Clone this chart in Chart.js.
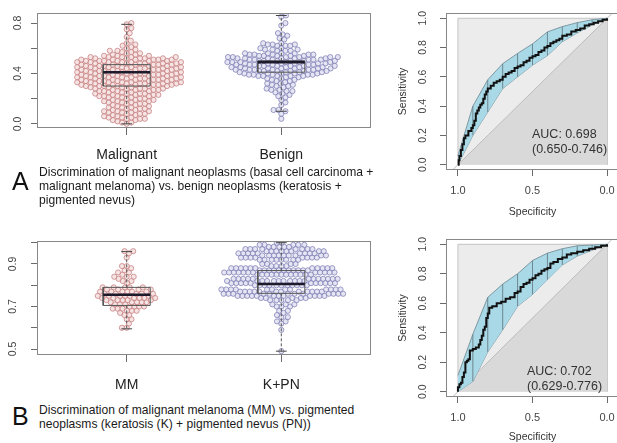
<!DOCTYPE html>
<html>
<head>
<meta charset="utf-8">
<script src="https://cdn.jsdelivr.net/npm/chart.js@4.4.1/dist/chart.umd.min.js"></script>
<style>
  body { margin: 0; background: #fff; font-family: "Liberation Sans", Arial, sans-serif; }
  #page { position: relative; width: 617px; height: 443px; overflow: hidden; }
  canvas { position: absolute; }
  .tag { position: absolute; font-size: 25px; line-height: 25px; color: #111; }
  .cap { position: absolute; font-size: 12.1px; line-height: 14px; color: #1a1a1a; white-space: nowrap; }
  .auc { position: absolute; font-size: 12.5px; line-height: 14.5px; color: #333; white-space: nowrap; }
</style>
</head>
<body>
<div id="page">
  <canvas id="swarmA" width="380" height="170" style="left:0;top:0"></canvas>
  <canvas id="rocA" width="245" height="225" style="left:380px;top:0"></canvas>
  <canvas id="swarmB" width="380" height="170" style="left:0;top:225px"></canvas>
  <canvas id="rocB" width="245" height="218" style="left:380px;top:225px"></canvas>

  <div class="tag" style="left:12px;top:169px">A</div>
  <div class="cap" style="left:39px;top:165px">Discrimination of malignant neoplasms (basal cell carcinoma +<br>malignant melanoma) vs. benign neoplasms (keratosis +<br>pigmented nevus)</div>
  <div class="tag" style="left:12px;top:404px">B</div>
  <div class="cap" style="left:39px;top:403px">Discrimination of malignant melanoma (MM) vs. pigmented<br>neoplasms (keratosis (K) + pigmented nevus (PN))</div>

  <div class="auc" id="aucA" style="left:532px;top:127px"></div>
  <div class="auc" id="aucB" style="left:527px;top:364px"></div>
</div>

<script>
Chart.defaults.font.family = '"Liberation Sans", Arial, sans-serif';

// ---------- panel A: malignant vs benign ----------
const swarmACategories = ['Malignant', 'Benign'];
const malignantValues = [
  0.00, 0.01, 0.01,
  0.02, 0.03, 0.03, 0.04, 0.04, 0.04, 0.05, 0.05, 0.05,
  0.06, 0.06, 0.07, 0.07, 0.08, 0.08, 0.08, 0.09, 0.09, 0.09,
  0.10, 0.10, 0.10, 0.11, 0.11, 0.12, 0.12, 0.12, 0.13, 0.13, 0.13,
  0.14, 0.14, 0.15, 0.15, 0.16, 0.16, 0.16, 0.17, 0.17, 0.17,
  0.18, 0.18, 0.18, 0.19, 0.19, 0.19, 0.20, 0.20, 0.20, 0.21, 0.21, 0.21,
  0.22, 0.22, 0.22, 0.22, 0.23, 0.23, 0.23, 0.23, 0.24, 0.24, 0.24, 0.24, 0.25, 0.25, 0.25,
  0.26, 0.26, 0.26, 0.26, 0.27, 0.27, 0.27, 0.27, 0.28, 0.28, 0.28, 0.28, 0.28, 0.29, 0.29, 0.29, 0.29,
  0.30, 0.30, 0.30, 0.30, 0.30, 0.30, 0.31, 0.31, 0.31, 0.31, 0.31, 0.31,
  0.32, 0.32, 0.32, 0.32, 0.32, 0.32, 0.33, 0.33, 0.33, 0.33, 0.33, 0.33,
  0.34, 0.34, 0.34, 0.34, 0.34, 0.34, 0.35, 0.35, 0.35, 0.35, 0.35, 0.35,
  0.36, 0.36, 0.36, 0.36, 0.36, 0.36, 0.37, 0.37, 0.37, 0.37, 0.37, 0.37,
  0.38, 0.38, 0.38, 0.38, 0.38, 0.38, 0.39, 0.39, 0.39, 0.39, 0.39, 0.39,
  0.40, 0.40, 0.40, 0.40, 0.40, 0.40, 0.41, 0.41, 0.41, 0.41, 0.41, 0.41,
  0.42, 0.42, 0.42, 0.42, 0.42, 0.42, 0.43, 0.43, 0.43, 0.43, 0.43, 0.43,
  0.44, 0.44, 0.44, 0.44, 0.44, 0.44, 0.45, 0.45, 0.45, 0.45, 0.45, 0.45,
  0.46, 0.46, 0.46, 0.46, 0.46, 0.46, 0.47, 0.47, 0.47, 0.47, 0.47, 0.47,
  0.48, 0.48, 0.48, 0.48, 0.48, 0.48, 0.49, 0.49, 0.49, 0.49, 0.49, 0.49,
  0.50, 0.50, 0.50, 0.50, 0.50, 0.50, 0.51, 0.51, 0.51, 0.51, 0.51, 0.51,
  0.52, 0.52, 0.52, 0.52, 0.52, 0.53, 0.53, 0.53, 0.53, 0.53,
  0.54, 0.54, 0.54, 0.55, 0.55, 0.56, 0.56, 0.57, 0.57,
  0.58, 0.58, 0.59, 0.60, 0.61,
  0.62, 0.63, 0.64, 0.66, 0.69, 0.72, 0.75, 0.76, 0.79, 0.80
];
const benignValues = [
  0.04, 0.08, 0.10, 0.11, 0.11,
  0.15, 0.17, 0.19, 0.21,
  0.22, 0.23, 0.24, 0.25,
  0.26, 0.26, 0.27, 0.27, 0.28, 0.29,
  0.30, 0.30, 0.31, 0.31, 0.32, 0.32, 0.33,
  0.34, 0.34, 0.35, 0.35, 0.36, 0.36, 0.37, 0.37,
  0.38, 0.38, 0.38, 0.38, 0.38, 0.39, 0.39, 0.39, 0.39, 0.39,
  0.40, 0.40, 0.40, 0.40, 0.40, 0.41, 0.41, 0.41, 0.41,
  0.42, 0.42, 0.42, 0.42, 0.42, 0.42, 0.43, 0.43, 0.43, 0.43, 0.43, 0.43,
  0.44, 0.44, 0.44, 0.44, 0.44, 0.44, 0.45, 0.45, 0.45, 0.45, 0.45,
  0.46, 0.46, 0.46, 0.46, 0.46, 0.46, 0.47, 0.47, 0.47, 0.47, 0.47, 0.47,
  0.48, 0.48, 0.48, 0.48, 0.48, 0.48, 0.49, 0.49, 0.49, 0.49, 0.49, 0.49,
  0.50, 0.50, 0.50, 0.50, 0.50, 0.50, 0.51, 0.51, 0.51, 0.51, 0.51, 0.51,
  0.52, 0.52, 0.52, 0.52, 0.52, 0.52, 0.53, 0.53, 0.53, 0.53, 0.53, 0.53,
  0.54, 0.54, 0.54, 0.54, 0.54, 0.55, 0.55, 0.55, 0.55, 0.55, 0.56, 0.56, 0.56, 0.56,
  0.58, 0.58, 0.58, 0.59, 0.59, 0.59, 0.60, 0.60,
  0.62, 0.62, 0.62, 0.63, 0.63, 0.63, 0.64, 0.64,
  0.67, 0.68, 0.70, 0.71, 0.72, 0.78, 0.80, 0.85, 0.86
];
// min, q1, median, q3, max
const swarmABoxes = [
  [0.00, 0.30, 0.41, 0.47, 0.79],
  [0.10, 0.41, 0.49, 0.50, 0.86]
];
const swarmAYTicks = [0.0, 0.2, 0.4, 0.6, 0.8];
const swarmAYLabels = ['0.0', '', '0.4', '', '0.8'];

// ---------- panel B: MM vs K+PN ----------
const swarmBCategories = ['MM', 'K+PN'];
const mmValues = [
  0.60, 0.60, 0.62, 0.64, 0.64, 0.66, 0.66, 0.67,
  0.68, 0.68, 0.68, 0.69, 0.69, 0.69,
  0.70, 0.70, 0.70, 0.70, 0.71, 0.71, 0.71,
  0.72, 0.72, 0.72, 0.72, 0.72, 0.73, 0.73, 0.73, 0.73, 0.73,
  0.74, 0.74, 0.74, 0.74, 0.74, 0.74, 0.75, 0.75, 0.75, 0.75, 0.75, 0.75,
  0.76, 0.76, 0.76, 0.76, 0.76, 0.77, 0.77, 0.77, 0.77, 0.77, 0.77,
  0.78, 0.78, 0.78, 0.78, 0.79, 0.79, 0.79, 0.79, 0.79,
  0.81, 0.82, 0.82,
  0.83, 0.84, 0.84, 0.84, 0.85,
  0.86, 0.86, 0.87,
  0.88, 0.89, 0.89,
  0.93, 0.95, 0.96, 0.96
];
const kpnValues = [
  0.49, 0.59, 0.62, 0.63, 0.63, 0.65, 0.65, 0.66, 0.67, 0.68, 0.68,
  0.70, 0.70, 0.70, 0.71, 0.71, 0.71,
  0.73, 0.73, 0.73, 0.73, 0.73, 0.74, 0.74, 0.74, 0.74, 0.74,
  0.75, 0.75, 0.75, 0.75, 0.75, 0.75, 0.75, 0.75, 0.75, 0.75, 0.75, 0.75,
  0.76, 0.76, 0.76, 0.76, 0.76, 0.76, 0.76, 0.76, 0.76, 0.76, 0.76, 0.76,
  0.77, 0.77, 0.77, 0.77, 0.77, 0.77, 0.77, 0.77, 0.77, 0.77, 0.77, 0.77,
  0.78, 0.78, 0.78, 0.78, 0.78, 0.78, 0.78, 0.78, 0.78, 0.78, 0.78, 0.78,
  0.80, 0.80, 0.80, 0.80, 0.80, 0.80, 0.80, 0.80, 0.80, 0.80, 0.80,
  0.81, 0.81, 0.81, 0.81, 0.81, 0.81, 0.81, 0.81, 0.81, 0.81, 0.81,
  0.82, 0.82, 0.82, 0.82, 0.82, 0.82, 0.82, 0.82, 0.82, 0.82, 0.82,
  0.83, 0.83, 0.83, 0.83, 0.83, 0.83, 0.83, 0.83, 0.83, 0.83, 0.83, 0.83,
  0.85, 0.85, 0.85, 0.85, 0.85, 0.85, 0.85, 0.85, 0.85, 0.85, 0.85, 0.85,
  0.86, 0.86, 0.86, 0.86, 0.86, 0.86, 0.86, 0.86, 0.86, 0.86, 0.86, 0.86,
  0.87, 0.87, 0.87, 0.87, 0.87, 0.87, 0.87, 0.87, 0.87, 0.87, 0.87,
  0.88, 0.88, 0.88, 0.88, 0.88, 0.88, 0.88, 0.88, 0.88, 0.88, 0.88,
  0.89, 0.89, 0.89, 0.89, 0.90, 0.90, 0.90, 0.90,
  0.92, 0.92, 0.92, 0.92, 0.92, 0.92, 0.92, 0.92, 0.93, 0.93, 0.93, 0.93, 0.93, 0.93, 0.93, 0.93,
  0.94, 0.94, 0.94, 0.94, 0.94, 0.94, 0.94, 0.94, 0.94, 0.95, 0.95, 0.95, 0.95, 0.95, 0.95, 0.95, 0.95, 0.95,
  0.96, 0.96, 0.96, 0.96, 0.96, 0.96, 0.96, 0.96, 0.97, 0.97, 0.97, 0.97, 0.97, 0.97, 0.97, 0.97,
  0.98, 0.98, 0.98, 0.98, 0.98, 0.99, 0.99, 0.99, 0.99, 0.99,
  1.00, 1.00
];
const swarmBBoxes = [
  [0.595, 0.705, 0.755, 0.79, 0.958],
  [0.49, 0.762, 0.806, 0.869, 1.00]
];
const swarmBYTicks = [0.5, 0.6, 0.7, 0.8, 0.9, 1.0];
const swarmBYLabels = ['0.5', '', '0.7', '', '0.9', ''];

// ---------- ROC curves ----------
const rocYTicks = [0.0, 0.2, 0.4, 0.6, 0.8, 1.0];
const rocYLabels = ['0.0', '0.2', '0.4', '0.6', '0.8', '1.0'];
const specTicks = [1.0, 0.5, 0.0];

const rocASpec = [1.00, 0.995, 0.99, 0.98, 0.97, 0.96, 0.95, 0.93, 0.91, 0.90, 0.89, 0.88, 0.87, 0.86, 0.85,
  0.84, 0.83, 0.82, 0.81, 0.80, 0.78, 0.76, 0.74, 0.72, 0.70, 0.68, 0.66, 0.64, 0.62, 0.60,
  0.58, 0.56, 0.54, 0.52, 0.50, 0.48, 0.46, 0.44, 0.42, 0.40, 0.38, 0.36, 0.34, 0.32, 0.30,
  0.27, 0.24, 0.21, 0.18, 0.15, 0.12, 0.09, 0.06, 0.03, 0.00];
const rocASens = [0.00, 0.03, 0.06, 0.10, 0.14, 0.18, 0.20, 0.23, 0.25, 0.27, 0.30, 0.35, 0.37, 0.39, 0.41,
  0.42, 0.45, 0.48, 0.50, 0.52, 0.54, 0.56, 0.57, 0.58, 0.60, 0.62, 0.63, 0.64, 0.66, 0.67,
  0.68, 0.70, 0.71, 0.73, 0.74, 0.75, 0.77, 0.78, 0.80, 0.81, 0.83, 0.84, 0.85, 0.86, 0.88,
  0.89, 0.91, 0.92, 0.93, 0.95, 0.96, 0.97, 0.98, 0.99, 1.00];

const rocBSpec = [1.00, 1.00, 0.99, 0.98, 0.97, 0.96, 0.95, 0.94, 0.93, 0.92, 0.90, 0.88, 0.86, 0.85, 0.84,
  0.83, 0.82, 0.81, 0.80, 0.79, 0.77, 0.74, 0.71, 0.68, 0.65, 0.62, 0.60, 0.58, 0.56, 0.54,
  0.52, 0.50, 0.48, 0.46, 0.44, 0.42, 0.40, 0.38, 0.36, 0.33, 0.30, 0.27, 0.24, 0.20, 0.16,
  0.12, 0.08, 0.04, 0.00];
const rocBSens = [0.00, 0.03, 0.05, 0.06, 0.10, 0.13, 0.20, 0.21, 0.22, 0.28, 0.29, 0.30, 0.32, 0.35, 0.38,
  0.42, 0.44, 0.50, 0.53, 0.57, 0.58, 0.60, 0.61, 0.63, 0.64, 0.67, 0.68, 0.71, 0.73, 0.74,
  0.76, 0.77, 0.79, 0.80, 0.82, 0.83, 0.84, 0.87, 0.88, 0.90, 0.91, 0.93, 0.94, 0.95, 0.96,
  0.97, 0.98, 0.99, 1.00];

// confidence band of sensitivity at fixed specificities
const ciSpec = [1.0, 0.9, 0.8, 0.7, 0.6, 0.5, 0.4, 0.3, 0.2, 0.1, 0.0];
const ciALower = [0.00, 0.20, 0.36, 0.52, 0.60, 0.68, 0.745, 0.84, 0.90, 0.955, 1.0];
const ciAUpper = [0.06, 0.40, 0.58, 0.69, 0.76, 0.825, 0.907, 0.943, 0.97, 0.99, 1.0];
const ciBLower = [0.00, 0.07, 0.27, 0.42, 0.58, 0.66, 0.76, 0.86, 0.92, 0.96, 1.0];
const ciBUpper = [0.11, 0.39, 0.64, 0.73, 0.80, 0.89, 0.94, 0.97, 0.99, 0.995, 1.0];

const aucA = '0.698', aucACI = '0.650-0.746';
const aucB = '0.702', aucBCI = '0.629-0.776';

document.getElementById('aucA').innerHTML = 'AUC: ' + aucA + '<br>(' + aucACI + ')';
document.getElementById('aucB').innerHTML = 'AUC: ' + aucB + '<br>(' + aucBCI + ')';

// box around the plotting region
const framePlugin = {
  id: 'frame',
  afterDatasetsDraw(chart, args, opts) {
    const a = chart.chartArea, ctx = chart.ctx;
    ctx.save();
    ctx.strokeStyle = opts.color || '#888';
    ctx.lineWidth = 1;
    ctx.strokeRect(Math.round(a.left) + 0.5, Math.round(a.top) + 0.5,
      Math.round(a.right - a.left) - 1, Math.round(a.bottom - a.top) - 1);
    ctx.restore();
  }
};

// y tick labels written parallel to the axis
const sideLabels = {
  id: 'sideLabels',
  afterDraw(chart, args, opts) {
    const s = chart.scales.y, ctx = chart.ctx;
    ctx.save();
    ctx.font = opts.font;
    ctx.fillStyle = opts.color;
    ctx.textAlign = 'center';
    ctx.textBaseline = 'middle';
    opts.ticks.forEach((v, i) => {
      if (!opts.labels[i]) return;
      ctx.save();
      ctx.translate(chart.chartArea.left - opts.offset, s.getPixelForValue(v));
      ctx.rotate(-Math.PI / 2);
      ctx.fillText(opts.labels[i], 0, 0);
      ctx.restore();
    });
    ctx.restore();
  }
};

const tickGrid = { drawOnChartArea: false, tickLength: 6, color: '#6a6a6a' };

// place each point as close to its group centre as it can go without overlap,
// taking the two sides in turn when they are about equally close
function swarmOffsets(pys, d) {
  const order = pys.map((p, i) => i).sort((a, b) => pys[b] - pys[a]);
  const placed = [];
  const out = new Array(pys.length);
  order.forEach((i, k) => {
    const y = pys[i];
    const near = placed.filter(p => Math.abs(p.y - y) < d);
    const cands = [0];
    near.forEach(p => {
      const dx = Math.sqrt(d * d - (p.y - y) * (p.y - y));
      cands.push(p.x - dx, p.x + dx);
    });
    const side = k % 2 ? 1 : -1;
    cands.sort((a, b) => {
      const diff = Math.abs(a) - Math.abs(b);
      if (Math.abs(diff) > 0.6) return diff;
      return (a - b) * side;
    });
    const x = cands.find(c => near.every(p => (p.x - c) ** 2 + (p.y - y) ** 2 >= d * d - 0.01));
    placed.push({ x, y });
    out[i] = x;
  });
  return out;
}

const groupColors = [
  { stroke: 'rgba(198,128,128,0.85)', fill: 'rgba(238,206,206,0.55)' },
  { stroke: 'rgba(128,128,182,0.85)', fill: 'rgba(208,208,234,0.55)' }
];

function makeSwarm(id, cats, groups, boxes, yMin, yMax, yTicks, yLabels, padTop, xHeight, labelPad, labelOffset) {
  const bw = 0.152, cw = 0.035;
  const datasets = [];
  groups.forEach((vals, g) => {
    const c = g + 1, b = boxes[g];
    datasets.push({
      type: 'scatter', data: vals.map(v => ({ x: c, y: v })),
      pointRadius: 2.6, pointBorderWidth: 0.9,
      borderColor: groupColors[g].stroke, backgroundColor: groupColors[g].fill, order: 3
    });
    datasets.push({
      type: 'line', order: 1, borderColor: '#555', borderWidth: 1,
      data: [{ x: c - bw, y: b[1] }, { x: c + bw, y: b[1] }, { x: c + bw, y: b[3] }, { x: c - bw, y: b[3] }, { x: c - bw, y: b[1] }]
    });
    datasets.push({
      type: 'line', order: 0, borderColor: '#1d1b2b', borderWidth: 2.6,
      data: [{ x: c - bw, y: b[2] }, { x: c + bw, y: b[2] }]
    });
    datasets.push({
      type: 'line', order: 1, borderColor: '#555', borderWidth: 1, borderDash: [3, 2],
      data: [{ x: c, y: b[3] }, { x: c, y: b[4] }, { x: c, y: null }, { x: c, y: b[1] }, { x: c, y: b[0] }]
    });
    datasets.push({
      type: 'line', order: 1, borderColor: '#444', borderWidth: 1,
      data: [{ x: c - cw, y: b[4] }, { x: c + cw, y: b[4] }, { x: c, y: null }, { x: c - cw, y: b[0] }, { x: c + cw, y: b[0] }]
    });
  });

  const chart = new Chart(document.getElementById(id), {
    type: 'scatter',
    data: { datasets },
    options: {
      responsive: false,
      animation: false,
      devicePixelRatio: 1,
      events: [],
      layout: { padding: { top: padTop, right: 9, left: 0, bottom: 0 } },
      elements: { point: { radius: 0 }, line: { tension: 0 } },
      plugins: {
        legend: { display: false },
        tooltip: { enabled: false },
        frame: { color: '#888' },
        sideLabels: { ticks: yTicks, labels: yLabels, offset: labelOffset, font: '10.5px "Liberation Sans", Arial, sans-serif', color: '#444' }
      },
      scales: {
        x: {
          type: 'linear', min: 0.42, max: 2.58,
          afterBuildTicks: s => { s.ticks = cats.map((n, i) => ({ value: i + 1 })); },
          afterFit: s => { s.height = xHeight; },
          ticks: { callback: v => cats[Math.round(v) - 1], font: { size: 14 }, color: '#222', padding: labelPad, maxRotation: 0, autoSkip: false },
          grid: { drawOnChartArea: false, tickLength: 7, color: '#6a6a6a' },
          border: { display: false }
        },
        y: {
          min: yMin, max: yMax,
          afterBuildTicks: s => { s.ticks = yTicks.map(v => ({ value: v })); },
          afterFit: s => { s.width = 37; },
          ticks: { display: false },
          grid: tickGrid,
          border: { display: false }
        }
      }
    },
    plugins: [framePlugin, sideLabels]
  });

  // spread the points sideways now that the pixel scales are known
  const ys = chart.scales.y, xs = chart.scales.x;
  const pxPerX = xs.getPixelForValue(2) - xs.getPixelForValue(1);
  groups.forEach((vals, g) => {
    const offs = swarmOffsets(vals.map(v => ys.getPixelForValue(v)), 4.8);
    chart.data.datasets[g * 5].data = vals.map((v, i) => ({ x: g + 1 + offs[i] / pxPerX, y: v }));
  });
  chart.update('none');
  return chart;
}

const rocXRange = [-0.08, 1.08];
const rocYRange = [-0.036, 1.036];

function makeRoc(id, spec, sens, lower, upper, padTop, xHeight, tickPad, titlePad) {
  const bars = [];
  ciSpec.forEach((s, i) => {
    if (i === 0 || i === ciSpec.length - 1) return;
    bars.push({ x: s, y: lower[i] }, { x: s, y: upper[i] }, { x: s, y: null });
  });
  return new Chart(document.getElementById(id), {
    type: 'line',
    data: {
      datasets: [
        { data: spec.map((s, i) => ({ x: s, y: sens[i] })), borderColor: '#111', borderWidth: 2, stepped: true, order: 0 },
        { data: bars, borderColor: '#6f8790', borderWidth: 1, order: 1 },
        { data: ciSpec.map((s, i) => ({ x: s, y: upper[i] })), borderColor: '#7d99a3', borderWidth: 1, backgroundColor: '#a9d8e6', fill: '+1', order: 2 },
        { data: ciSpec.map((s, i) => ({ x: s, y: lower[i] })), borderColor: '#7d99a3', borderWidth: 1, order: 2 },
        { data: [{ x: rocXRange[1], y: 1 - rocXRange[1] }, { x: rocXRange[0], y: 1 - rocXRange[0] }], borderColor: '#bcbcbc', borderWidth: 1, order: 3 },
        { data: [{ x: 1, y: 0 }, { x: 0, y: 1 }], borderWidth: 0, backgroundColor: '#d9d9d9', fill: 'origin', order: 4 },
        { data: [{ x: 1, y: 0 }, { x: 1, y: 1 }, { x: 0, y: 1 }, { x: 0, y: 0 }], borderColor: '#c4c4c4', borderWidth: 1, backgroundColor: '#ececec', fill: 'origin', order: 5 }
      ]
    },
    options: {
      responsive: false,
      animation: false,
      devicePixelRatio: 1,
      events: [],
      layout: { padding: { top: padTop, right: 6, left: 0, bottom: 0 } },
      elements: { point: { radius: 0 }, line: { tension: 0 } },
      plugins: {
        legend: { display: false },
        tooltip: { enabled: false },
        frame: { color: '#888' },
        sideLabels: { ticks: rocYTicks, labels: rocYLabels, offset: 23, font: '10.5px "Liberation Sans", Arial, sans-serif', color: '#444' }
      },
      scales: {
        x: {
          type: 'linear', reverse: true, min: rocXRange[0], max: rocXRange[1],
          afterBuildTicks: s => { s.ticks = specTicks.map(v => ({ value: v })); },
          afterFit: s => { s.height = xHeight; },
          ticks: { callback: v => v.toFixed(1), font: { size: 11 }, color: '#444', padding: tickPad, maxRotation: 0, autoSkip: false },
          grid: tickGrid,
          border: { display: false },
          title: { display: true, text: 'Specificity', font: { size: 10.5 }, color: '#333', padding: { top: 0, bottom: titlePad } }
        },
        y: {
          type: 'linear', min: rocYRange[0], max: rocYRange[1],
          afterBuildTicks: s => { s.ticks = rocYTicks.map(v => ({ value: v })); },
          afterFit: s => { s.width = 66; },
          ticks: { display: false },
          grid: tickGrid,
          border: { display: false },
          title: { display: true, text: 'Sensitivity', font: { size: 10.5 }, color: '#333', padding: { top: 17, bottom: 0 } }
        }
      }
    },
    plugins: [framePlugin, sideLabels]
  });
}

makeSwarm('swarmA', swarmACategories, [malignantValues, benignValues], swarmABoxes,
  -0.033, 0.88, swarmAYTicks, swarmAYLabels, 13, 42, 12, 19);
makeSwarm('swarmB', swarmBCategories, [mmValues, kpnValues], swarmBBoxes,
  0.472, 1.008, swarmBYTicks, swarmBYLabels, 16, 40, 15, 24);
makeRoc('rocA', rocASpec, rocASens, ciALower, ciAUpper, 13, 55, 8, 7);
makeRoc('rocB', rocBSpec, rocBSens, ciBLower, ciBUpper, 14, 46, 8, 0);
</script>
</body>
</html>
